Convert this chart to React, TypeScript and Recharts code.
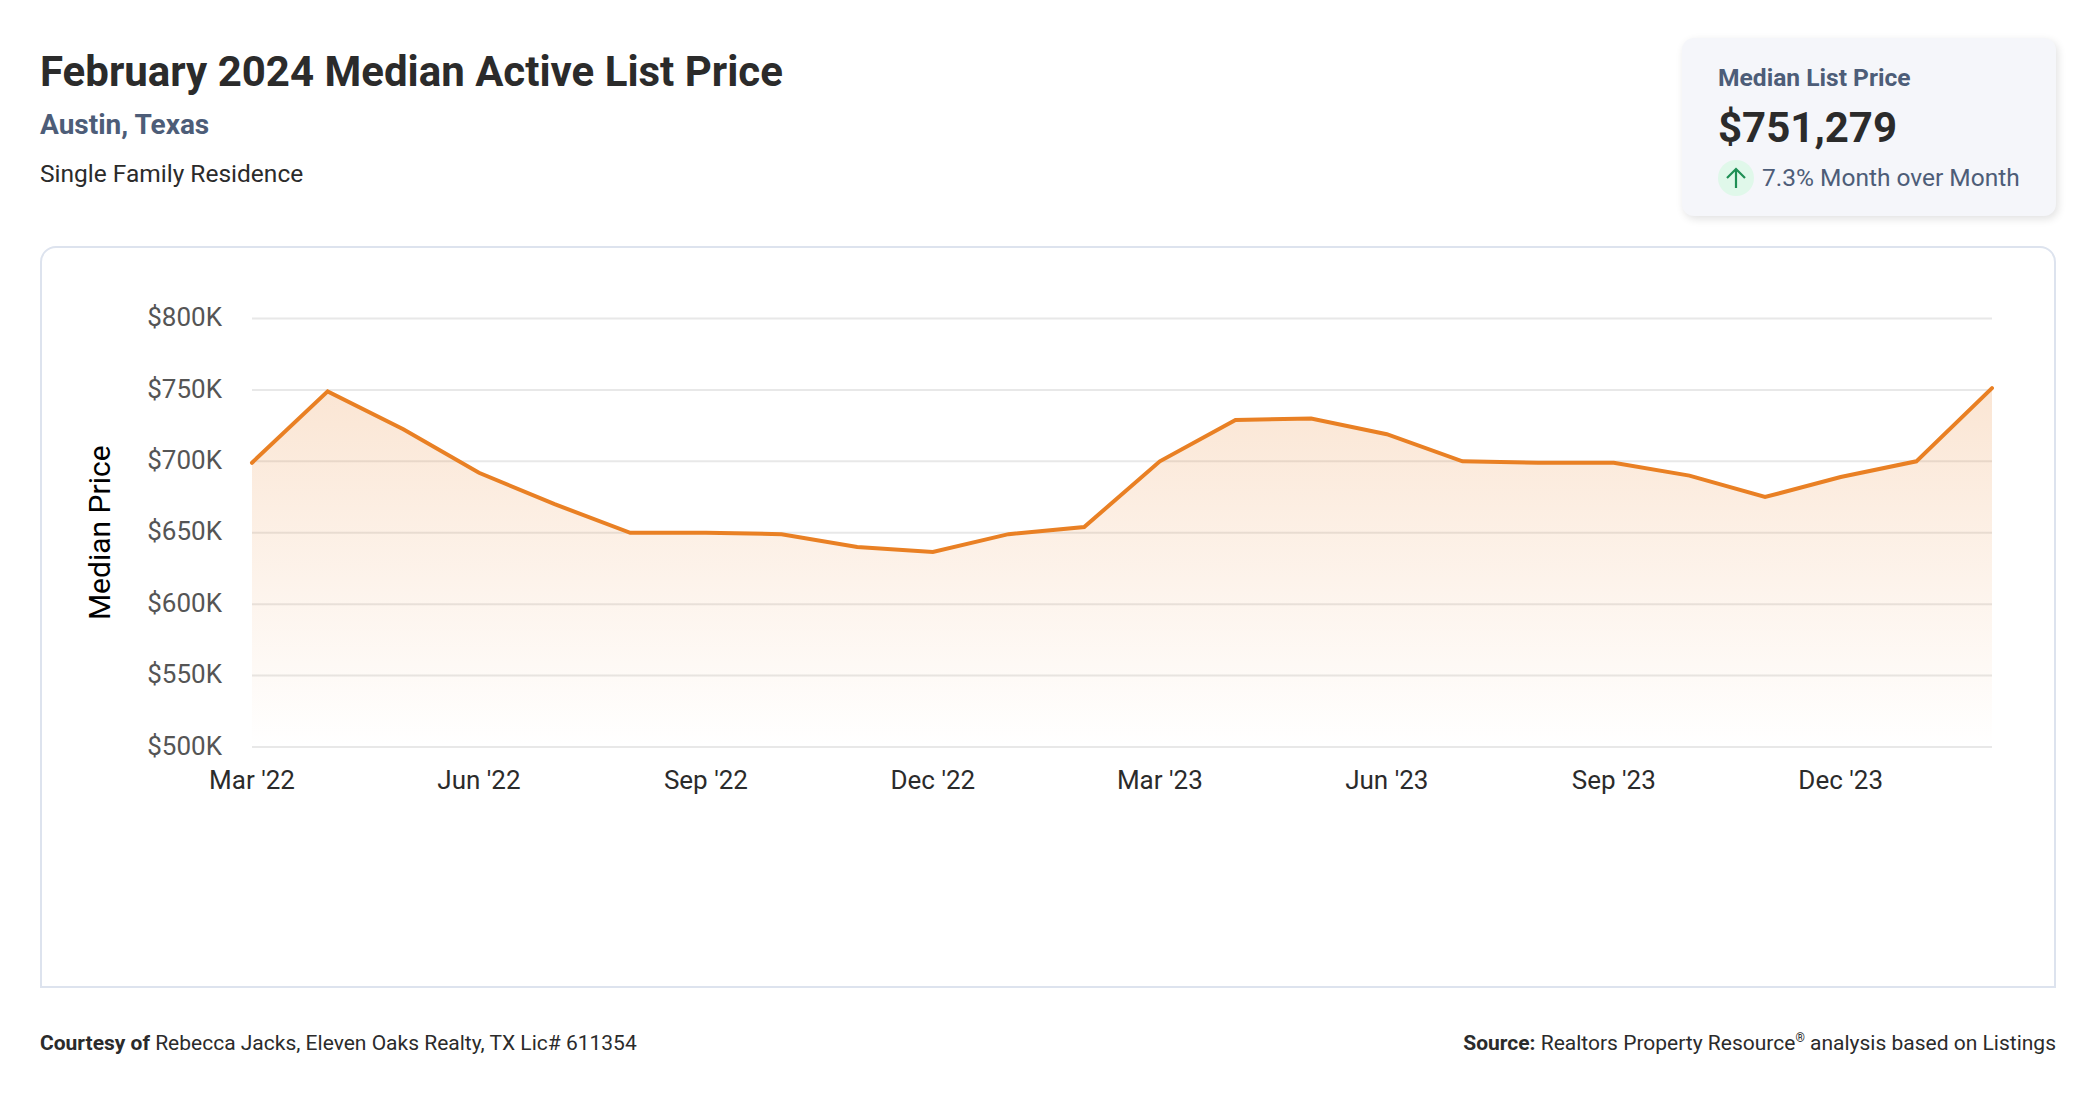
import React from "react";
import { AreaChart, Area, XAxis, YAxis, CartesianGrid } from "recharts";

const months = ["Mar '22","Apr '22","May '22","Jun '22","Jul '22","Aug '22","Sep '22","Oct '22","Nov '22","Dec '22","Jan '23","Feb '23","Mar '23","Apr '23","May '23","Jun '23","Jul '23","Aug '23","Sep '23","Oct '23","Nov '23","Dec '23","Jan '24","Feb '24"];
const prices = [699000,749000,722500,692000,670000,650000,650000,649000,640000,636500,649000,654000,700000,729000,730000,719000,700000,699000,699000,690000,675000,689000,700000,751279];
const yTicks = [500000,550000,600000,650000,700000,750000,800000];
const data = months.map((month, i) => ({ month, price: prices[i] }));

const ROBOTO = "Roboto, sans-serif";
const abs = (s: React.CSSProperties): React.CSSProperties => ({ position: "absolute", whiteSpace: "nowrap", margin: 0, ...s });

export default function App() {
  return (
    <div style={{ position: "absolute", left: 0, top: 0, width: 2096, height: 1100, background: "#fff", fontFamily: ROBOTO, overflow: "hidden" }}>
      <div style={abs({ left: 40, top: 46, fontSize: 42, lineHeight: "52px", fontWeight: 700, color: "#2b2b2b" })}>February 2024 Median Active List Price</div>
      <div style={abs({ left: 40, top: 107, fontSize: 28, lineHeight: "36px", fontWeight: 700, color: "#4d5d78" })}>Austin, Texas</div>
      <div style={abs({ left: 40, top: 158, fontSize: 24.5, lineHeight: "32px", fontWeight: 400, color: "#2b2b2b" })}>Single Family Residence</div>

      <div style={abs({ left: 1682, top: 38, width: 374, height: 178, borderRadius: 12, background: "#f5f6fa", boxShadow: "2px 3px 8px rgba(0,0,0,0.12)" })} />
      <div style={abs({ left: 1718, top: 61, fontSize: 24.6, lineHeight: "34px", fontWeight: 700, color: "#4d5d78" })}>Median List Price</div>
      <div style={abs({ left: 1718, top: 101, fontSize: 42, lineHeight: "54px", fontWeight: 700, color: "#2b2b2b" })}>$751,279</div>
      <div style={abs({ left: 1718, top: 160, width: 36, height: 36, borderRadius: 18, background: "#e0f8ea" })} />
      <svg style={{ position: "absolute", left: 1718, top: 160 }} width={36} height={36} viewBox="0 0 36 36">
        <path d="M18 28 V9 M9 18 L18 9 L27 18" fill="none" stroke="#1f8f55" strokeWidth={2.2} />
      </svg>
      <div style={abs({ left: 1762, top: 161, fontSize: 24.5, lineHeight: "34px", fontWeight: 400, color: "#4d5d78" })}>7.3% Month over Month</div>

      <div style={abs({ left: 40, top: 246, width: 2016, height: 742, boxSizing: "border-box", border: "2px solid #dde3ee", borderRadius: "16px 16px 0 0" })} />

      <div style={{ position: "absolute", left: 0, top: 0 }}>
        <AreaChart width={2096} height={1100} data={data} margin={{ top: 318.5, right: 104, bottom: 313, left: 152 }}>
          <defs>
            <linearGradient id="priceFill" x1="0" y1="0" x2="0" y2="1">
              <stop offset="0%" stopColor="#e97f26" stopOpacity={0.2} />
              <stop offset="100%" stopColor="#e97f26" stopOpacity={0} />
            </linearGradient>
          </defs>
          <CartesianGrid vertical={false} stroke="#e8e8e8" strokeWidth={2} />
          <XAxis dataKey="month" interval={2} axisLine={false} tickLine={false} height={40} tickMargin={18}
            tick={{ fontSize: 26, fill: "#2b2b2b", fontFamily: ROBOTO }} />
          <YAxis domain={[500000, 800000]} ticks={yTicks} width={100} axisLine={false} tickLine={false} tickMargin={24}
            tickFormatter={(v: number) => `$${v / 1000}K`}
            tick={{ fontSize: 26, fill: "#555", fontFamily: ROBOTO, dy: -1.5 }}
            label={{ value: "Median Price", angle: -90, position: "insideLeft", offset: -53, style: { textAnchor: "middle", fontSize: 30, fill: "#000", fontFamily: ROBOTO } }} />
          <Area type="linear" dataKey="price" stroke="#e98024" strokeWidth={4} strokeLinecap="round" fill="url(#priceFill)" fillOpacity={1} dot={false} activeDot={false} isAnimationActive={false} />
        </AreaChart>
      </div>

      <div style={abs({ left: 40, top: 1029, fontSize: 21, lineHeight: "28px", color: "#2b2b2b" })}><b>Courtesy of</b> Rebecca Jacks, Eleven Oaks Realty, TX Lic# 611354</div>
      <div style={abs({ right: 40, top: 1029, fontSize: 21, lineHeight: "28px", color: "#2b2b2b" })}><b>Source:</b> Realtors Property Resource<sup style={{ fontSize: 12, lineHeight: 0 }}>®</sup> analysis based on Listings</div>
    </div>
  );
}
